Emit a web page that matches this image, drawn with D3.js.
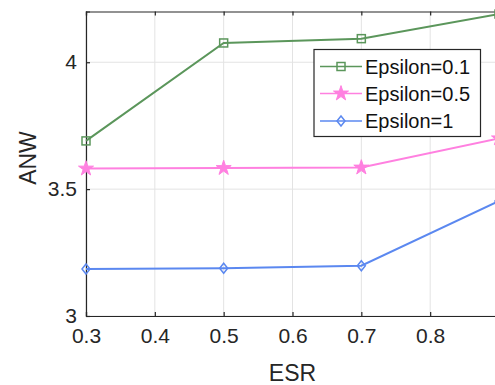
<!DOCTYPE html>
<html><head><meta charset="utf-8">
<script src="https://cdn.jsdelivr.net/npm/d3@7"></script>
<style>html,body{margin:0;padding:0;background:#fff;}svg{display:block;font-family:"Liberation Sans",Arial,sans-serif;}</style>
</head><body>
<script>
const esr = [0.3, 0.5, 0.7, 0.9];
const eps01 = [3.690, 4.076, 4.093, 4.19];
const eps05 = [3.581, 3.583, 3.585, 3.70];
const eps1 = [3.185, 3.188, 3.198, 3.453];
const seriesNames = ["Epsilon=0.1", "Epsilon=0.5", "Epsilon=1"];
const xTicks = [0.3, 0.4, 0.5, 0.6, 0.7, 0.8];
const xGrid = [0.3, 0.4, 0.5, 0.6, 0.7, 0.8, 0.9];
const yTicks = [3, 3.5, 4];

const W = 495, H = 385;
const svg = d3.select("body").append("svg").attr("width", W).attr("height", H);
const x = d3.scaleLinear().domain([0.3, 0.9]).range([86, 499]);
const y = d3.scaleLinear().domain([3, 4.2]).range([316, 11.5]);

const colors = ["#5b965b", "#ff80e0", "#5b88f0"];
const data = [eps01, eps05, eps1];

// grid
const g = svg.append("g");
g.selectAll(".vg").data(xGrid).join("line")
  .attr("x1", d => x(d)).attr("x2", d => x(d)).attr("y1", y(3)).attr("y2", y(4.2))
  .attr("stroke", "#e3e3e3").attr("stroke-width", 1);
g.selectAll(".hg").data(yTicks).join("line")
  .attr("x1", x(0.3)).attr("x2", x(0.9)).attr("y1", d => y(d)).attr("y2", d => y(d))
  .attr("stroke", "#e3e3e3").attr("stroke-width", 1);

// axes
const axColor = "#262626";
const xAxis = svg.append("g").attr("transform", `translate(0,${y(3)})`)
  .call(d3.axisBottom(x).tickValues(xTicks).tickSize(-4).tickPadding(12).tickFormat(d3.format(".1f")));
const xAxisTop = svg.append("g").attr("transform", `translate(0,${y(4.2)})`)
  .call(d3.axisTop(x).tickValues(xTicks).tickSize(-4).tickFormat(""));
const yAxis = svg.append("g").attr("transform", `translate(${x(0.3)},0)`)
  .call(d3.axisLeft(y).tickValues(yTicks).tickSize(-4).tickPadding(9).tickFormat(d => d3.format("")(d)));
[xAxis, xAxisTop, yAxis].forEach(a => {
  a.select(".domain").attr("stroke", axColor).attr("stroke-width", 1.2);
  a.selectAll(".tick line").attr("stroke", axColor).attr("stroke-width", 1.2);
  a.selectAll("text").attr("fill", "#262626").attr("font-size", 21).attr("font-family", "Liberation Sans, Arial, sans-serif");
});
xAxis.selectAll("text").attr("dy", "0.71em");

// lines
const line = d3.line().x((d, i) => x(esr[i])).y(d => y(d));
data.forEach((s, k) => {
  svg.append("path").datum(s).attr("d", line).attr("fill", "none")
    .attr("stroke", colors[k]).attr("stroke-width", 2);
});

function drawMarker(sel, k, cx, cy) {
  if (k === 0) {
    sel.append("rect").attr("x", cx - 4).attr("y", cy - 4).attr("width", 8).attr("height", 8)
      .attr("fill", "none").attr("stroke", colors[0]).attr("stroke-width", 1.5);
  } else if (k === 1) {
    sel.append("path").attr("d", d3.symbol().type(d3.symbolStar).size(70)())
      .attr("transform", `translate(${cx},${cy})`).attr("fill", colors[1]).attr("stroke", colors[1]);
  } else {
    sel.append("path").attr("d", `M${cx},${cy - 5}L${cx + 4},${cy}L${cx},${cy + 5}L${cx - 4},${cy}Z`)
      .attr("fill", "none").attr("stroke", colors[2]).attr("stroke-width", 1.5);
  }
}
data.forEach((s, k) => {
  const mg = svg.append("g");
  s.forEach((v, i) => drawMarker(mg, k, x(esr[i]), y(v)));
});

// axis labels
svg.append("text").attr("x", x(0.6)).attr("y", 381).attr("text-anchor", "middle")
  .attr("font-size", 23).attr("fill", "#262626").text("ESR");
svg.append("text").attr("transform", `translate(36,158) rotate(-90)`).attr("text-anchor", "middle")
  .attr("font-size", 23).attr("fill", "#262626").text("ANW");

// legend
const lg = svg.append("g");
lg.append("rect").attr("x", 314).attr("y", 49.5).attr("width", 166.5).attr("height", 87)
  .attr("fill", "#fff").attr("stroke", "#262626").attr("stroke-width", 1.2);
const rows = [66.5, 93.5, 121];
seriesNames.forEach((n, k) => {
  const cy = rows[k];
  lg.append("line").attr("x1", 320).attr("x2", 362).attr("y1", cy).attr("y2", cy)
    .attr("stroke", colors[k]).attr("stroke-width", 1.3);
  drawMarker(lg, k, 341, cy);
  lg.append("text").attr("x", 365).attr("y", cy).attr("dy", "0.36em")
    .attr("font-size", 20).attr("fill", "#111").text(n);
});
</script>
</body></html>
